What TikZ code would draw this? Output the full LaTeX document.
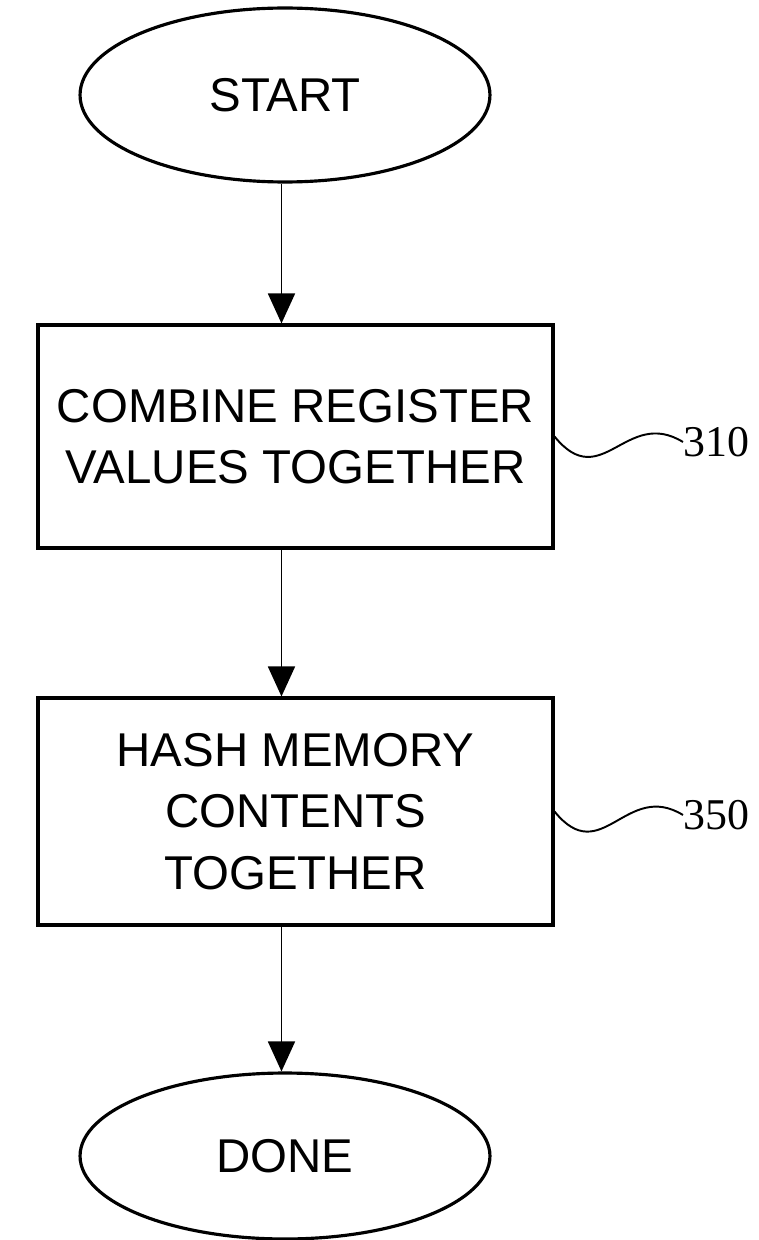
\documentclass[tikz,border=0pt]{standalone}
\usepackage{fontspec}
\setmainfont{Liberation Serif}
\newfontfamily\flowfont{Liberation Sans}
\usetikzlibrary{shapes.geometric,arrows.meta}
\begin{document}
\begin{tikzpicture}[x=0.02cm,y=-0.02cm,
  terminal/.style={draw,ellipse,line width=1.8pt,minimum width=8.2cm,inner sep=0pt,font=\flowfont\fontsize{27}{35}\selectfont},
  stepbox/.style={draw,rectangle,line width=1.8pt,minimum width=10.3cm,align=center,font=\flowfont\fontsize{27}{35}\selectfont},
  flow/.style={line width=1pt,-{Triangle[length=0.6cm,width=0.54cm]}},
  refnum/.style={anchor=west,inner sep=0pt,font=\fontsize{25}{25}\selectfont}]
\useasboundingbox (0,0) rectangle (758,1240);
%\draw[help lines] (0,0) grid[step=100] (758,1240);
\node[terminal,minimum height=3.48cm] (start) at (285,95) {START};
\node[stepbox,minimum height=4.46cm] (combine) at (295.5,436.5) {COMBINE REGISTER\\VALUES TOGETHER};
\node[stepbox,minimum height=4.54cm] (hash) at (295.5,811.5) {HASH MEMORY\\CONTENTS\\TOGETHER};
\node[terminal,minimum height=3.32cm] (done) at (285,1156) {DONE};
\node[refnum] (n310) at (683,442) {310};
\node[refnum] (n350) at (683,815) {350};
\draw[flow] ([xshift=-2]start.south) -- ([xshift=-2]start.south |- combine.north);
\draw[flow] ([xshift=-2]start.south |- combine.south) -- ([xshift=-2]start.south |- hash.north);
\draw[flow] ([xshift=-2]start.south |- hash.south) -- ([xshift=-2]done.north);
\draw[line width=1.1pt] (combine.east) .. controls +(47,58) and +(-57,-35) .. (n310.west);
\draw[line width=1.1pt] (hash.east) .. controls +(47,58) and +(-57,-35) .. (n350.west);
\end{tikzpicture}
\end{document}
